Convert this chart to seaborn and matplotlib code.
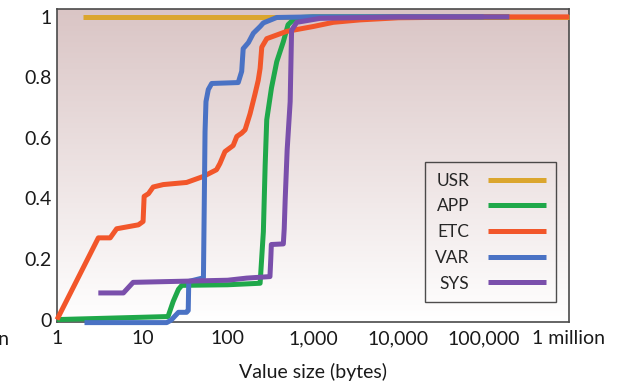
import numpy as np
import pandas as pd
import matplotlib
matplotlib.use("Agg")
import matplotlib.pyplot as plt
import seaborn as sns
from matplotlib.colors import LinearSegmentedColormap
from matplotlib.lines import Line2D

series_names = ["USR", "APP", "ETC", "VAR", "SYS"]
series_colors = ["#dba62e", "#1fa84a", "#f2562a", "#4a72c4", "#7a4fab"]

usr_x = [2, 1e6]
usr_y = [1.0, 1.0]

app_x = [1, 20, 23, 26.5, 29, 100, 240, 262, 275, 287, 326, 376, 449, 510, 620, 1000, 1e4, 2e5]
app_y = [0, 0.01, 0.06, 0.10, 0.113, 0.115, 0.12, 0.29, 0.51, 0.66, 0.765, 0.852, 0.918, 0.974, 0.997, 1.0, 1.0, 1.0]

etc_x = [1, 3.05, 4.2, 5.0, 9.0, 10.2, 10.5, 11.8, 13.4, 17.6, 33, 52, 74, 81, 93, 116, 128, 146, 160, 183,
         209, 228, 240, 251, 287, 490, 1000, 1730, 3550, 1e4, 1e5, 1e6]
etc_y = [0, 0.27, 0.27, 0.30, 0.313, 0.324, 0.407, 0.416, 0.438, 0.446, 0.453, 0.473, 0.495, 0.515, 0.555,
         0.575, 0.605, 0.616, 0.627, 0.68, 0.745, 0.79, 0.83, 0.90, 0.928, 0.952, 0.968, 0.982, 0.99, 0.997, 1.0, 1.0]

var_x = [2.1, 19.3, 21.7, 26.5, 33, 34.5, 35, 52, 53.5, 54.3, 55.7, 59.3, 65, 133, 146, 152, 175, 200, 240,
         262, 376, 1000, 1e4, 1e5]
var_y = [-0.01, -0.01, -0.002, 0.024, 0.024, 0.03, 0.126, 0.138, 0.45, 0.62, 0.72, 0.76, 0.78, 0.783, 0.82,
         0.895, 0.915, 0.946, 0.968, 0.98, 0.998, 1.0, 1.0, 1.0]

sys_x = [3.05, 6.0, 7.8, 100, 167, 313, 320, 325, 449, 460, 472, 498, 540, 561, 645, 1208, 1e4, 2e5]
sys_y = [0.088, 0.088, 0.123, 0.13, 0.137, 0.142, 0.2, 0.248, 0.25, 0.3, 0.396, 0.561, 0.72, 0.955, 0.982,
         0.995, 1.0, 1.0]

x_ticks = [1, 10, 100, 1000, 1e4, 1e5, 1e6]
x_tick_labels = ["1", "10", "100", "1,000", "10,000", "100,000", "1 million"]
y_ticks = [0, 0.2, 0.4, 0.6, 0.8, 1.0]
y_tick_labels = ["0", "0.2", "0.4", "0.6", "0.8", "1"]

frames = []
for name, xs, ys in zip(series_names,
                        [usr_x, app_x, etc_x, var_x, sys_x],
                        [usr_y, app_y, etc_y, var_y, sys_y]):
    frames.append(pd.DataFrame({"size": xs, "frac": ys, "dir": name}))
df = pd.concat(frames, ignore_index=True)

sns.set_theme(style="white")
plt.rcParams["font.family"] = ["Lato", "DejaVu Sans"]

fig = plt.figure(figsize=(6.27, 3.83), dpi=100)
ax = fig.add_axes([57 / 627, 1 - 322 / 383, 512 / 627, 313 / 383])

# gradient background
cmap = LinearSegmentedColormap.from_list("bg", ["#ffffff", "#dac5c5"])
grad = np.linspace(0, 1, 256).reshape(-1, 1)
ax.imshow(grad, extent=[0, 1, 0, 1], transform=ax.transAxes, aspect="auto",
          cmap=cmap, origin="lower", zorder=0)

sns.lineplot(data=df, x="size", y="frac", hue="dir", hue_order=series_names,
             palette=series_colors, estimator=None, sort=False, units="dir",
             linewidth=3.6, ax=ax, legend=False, zorder=3)
for ln in ax.get_lines():
    ln.set_clip_on(False)
    ln.set_solid_capstyle("butt")

ax.set_xscale("log")
ax.set_xlim(1, 1e6)
ax.set_ylim(-0.008, 1.026)
ax.set_xticks(x_ticks)
ax.set_xticklabels(x_tick_labels)
ax.set_yticks(y_ticks)
ax.set_yticklabels(y_tick_labels)
ax.minorticks_off()
ax.tick_params(axis="both", direction="in", length=5, width=1, color="#333333",
               labelsize=14, labelcolor="#1a1a1a", pad=4)
ax.tick_params(axis="x", pad=6)
for s in ax.spines.values():
    s.set_visible(True)
    s.set_color("#4a4a4a")
    s.set_linewidth(1.2)
    s.set_zorder(2)
ax.set_xlabel("Value size (bytes)", fontsize=14, color="#1a1a1a", labelpad=11)
ax.set_ylabel("")
ax.grid(False)

handles = [Line2D([0], [0], color=c, lw=3.6, solid_capstyle="butt") for c in series_colors]
leg = ax.legend(handles, series_names, loc="lower right", bbox_to_anchor=(0.975, 0.064),
                borderaxespad=0, fancybox=False, frameon=True, markerfirst=False,
                fontsize=12.5, handlelength=3.3, labelspacing=0.56, handletextpad=1.1,
                borderpad=0.6)
leg.get_frame().set_edgecolor("#222222")
leg.get_frame().set_linewidth(1.0)
leg.get_frame().set_facecolor("none")

# tail of the neighbouring panel's tick label, cut by the figure edge
fig.text(9 / 627, 1 - 345 / 383, "1 million", ha="right", va="baseline", fontsize=14, color="#1a1a1a")

fig.savefig("out.png", dpi=100)
